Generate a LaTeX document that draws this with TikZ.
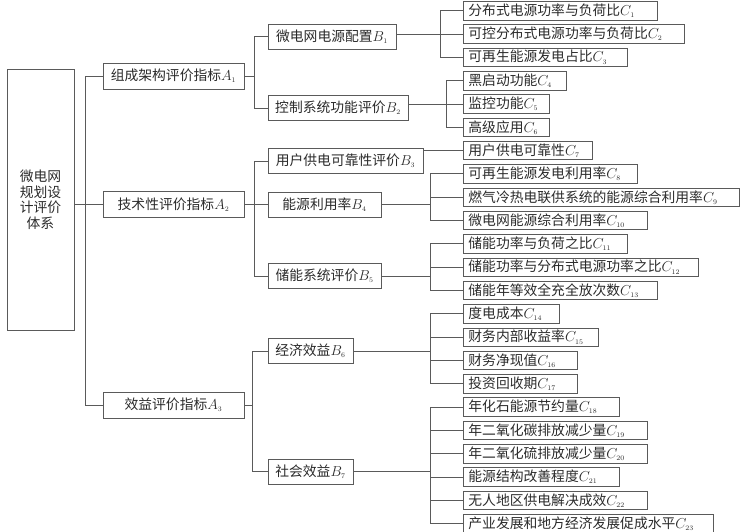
\documentclass[tikz,border=0pt]{standalone}
\usepackage{fontspec}
\newfontfamily\cjk{Noto Sans CJK SC}
\usetikzlibrary{calc}
\definecolor{lc}{HTML}{5A5A5A}
\definecolor{tc}{HTML}{2A2A2A}
\newcommand\idx[2]{$#1_{\scriptscriptstyle #2}$}
\newcommand\cnode[5]{\node[cb, text width=#3pt] (#1) at (463,#2) {#4\idx{C}{#5}};}
\begin{document}
\begin{tikzpicture}[x=1pt,y=-1pt,
  box/.style={draw=lc, line width=0.8pt, inner sep=0pt, text=tc, font=\cjk\fontsize{13.8}{15.5}\selectfont},
  ab/.style={box, minimum width=141pt, minimum height=26pt},
  bb/.style={box, minimum height=25pt},
  cb/.style={box, anchor=north west, minimum height=18.5pt, align=left, inner xsep=5pt},
  ln/.style={draw=lc, line width=0.8pt}]
\useasboundingbox (0,0) rectangle (747,531);
% root
\node[box, minimum width=67pt, minimum height=261pt, align=center] (root) at (40.5,199.5) {微电网\\规划设\\计评价\\体系};
% A level
\node[ab] (A1) at (173.5,76) {组成架构评价指标\idx{A}{1}};
\node[ab] (A2) at (173.5,204.5) {技术性评价指标\idx{A}{2}};
\node[ab] (A3) at (173.5,405) {效益评价指标\idx{A}{3}};
% B level
\node[bb, minimum width=128pt] (B1) at (332,36.5) {微电网电源配置\idx{B}{1}};
\node[bb, minimum width=140pt] (B2) at (338,108) {控制系统功能评价\idx{B}{2}};
\node[bb, minimum width=155pt] (B3) at (345.5,161) {用户供电可靠性评价\idx{B}{3}};
\node[bb, minimum width=113pt] (B4) at (324.5,204.5) {能源利用率\idx{B}{4}};
\node[bb, minimum width=113pt] (B5) at (324.5,276) {储能系统评价\idx{B}{5}};
\node[bb, minimum width=85pt] (B6) at (310.5,351) {经济效益\idx{B}{6}};
\node[bb, minimum width=85pt] (B7) at (310.5,471.5) {社会效益\idx{B}{7}};
% C level
\cnode{C1}{1}{184}{分布式电源功率与负荷比}{1}
\cnode{C2}{24.3}{211}{可控分布式电源功率与负荷比}{2}
\cnode{C3}{47.6}{154}{可再生能源发电占比}{3}
\cnode{C4}{71}{93}{黑启动功能}{4}
\cnode{C5}{94.3}{76}{监控功能}{5}
\cnode{C6}{117.6}{76}{高级应用}{6}
\cnode{C7}{140.9}{119}{用户供电可靠性}{7}
\cnode{C8}{164.2}{164}{可再生能源发电利用率}{8}
\cnode{C9}{187.6}{266}{燃气冷热电联供系统的能源综合利用率}{9}
\cnode{C10}{210.9}{174}{微电网能源综合利用率}{10}
\cnode{C11}{234.2}{154}{储能功率与负荷之比}{11}
\cnode{C12}{257.5}{225}{储能功率与分布式电源功率之比}{12}
\cnode{C13}{280.8}{184}{储能年等效全充全放次数}{13}
\cnode{C14}{304.2}{86}{度电成本}{14}
\cnode{C15}{327.5}{125}{财务内部收益率}{15}
\cnode{C16}{350.8}{104}{财务净现值}{16}
\cnode{C17}{374.1}{104}{投资回收期}{17}
\cnode{C18}{397.4}{146}{年化石能源节约量}{18}
\cnode{C19}{420.8}{174}{年二氧化碳排放减少量}{19}
\cnode{C20}{444.1}{174}{年二氧化硫排放减少量}{20}
\cnode{C21}{467.4}{146}{能源结构改善程度}{21}
\cnode{C22}{490.7}{174}{无人地区供电解决成效}{22}
\cnode{C23}{514}{240}{产业发展和地方经济发展促成水平}{23}
% root to A
\draw[ln] (A1.west) -- ++(-17,0) coordinate (ka) |- (A3.west);
\draw[ln] (root.east |- A2.west) -- (A2.west);
% A to B
\draw[ln] (B1.west) -- ++(-13,0) coordinate (k1) |- (B2.west);
\draw[ln] (A1.east) -- (A1.east -| k1);
\draw[ln] (B3.west) -- ++(-13,0) coordinate (k2) |- (B5.west);
\draw[ln] (B4.west) -- (B4.west -| k2);
\draw[ln] (A2.east) -- (A2.east -| k2);
\draw[ln] (B6.west) -- ++(-15,0) coordinate (k3) |- (B7.west);
\draw[ln] (A3.east) -- (A3.east -| k3);
% B1
\draw[ln] (C1.west) -- ++(-23,0) coordinate (m1) |- (C3.west);
\draw[ln] (C2.west) -- (C2.west -| B1.east);
% B2
\draw[ln] (C4.west) -- ++(-17,0) coordinate (m2) |- (C6.west);
\draw[ln] (C5.west) -- (C5.west -| B2.east);
% B3
\draw[ln] (C7.west) -- (C7.west -| B3.east);
% B4
\draw[ln] (C8.west) -- ++(-33,0) coordinate (m4) |- (C10.west);
\draw[ln] (C9.west) -- ++(-33,0);
\draw[ln] (B4.east) -- (B4.east -| m4);
% B5
\draw[ln] (C11.west) -- ++(-33,0) coordinate (m5) |- (C13.west);
\draw[ln] (C12.west) -- ++(-33,0);
\draw[ln] (B5.east) -- (B5.east -| m5);
% B6
\draw[ln] (C14.west) -- ++(-33,0) coordinate (m6) |- (C17.west);
\draw[ln] (C15.west) -- ++(-33,0);
\draw[ln] (C16.west) -- ++(-33,0);
\draw[ln] (B6.east) -- (B6.east -| m6);
% B7
\draw[ln] (C18.west) -- ++(-33,0) coordinate (m7) |- (C23.west);
\draw[ln] (C19.west) -- ++(-33,0);
\draw[ln] (C20.west) -- ++(-33,0);
\draw[ln] (C21.west) -- ++(-33,0);
\draw[ln] (C22.west) -- ++(-33,0);
\draw[ln] (B7.east) -- (B7.east -| m7);
\end{tikzpicture}
\end{document}
